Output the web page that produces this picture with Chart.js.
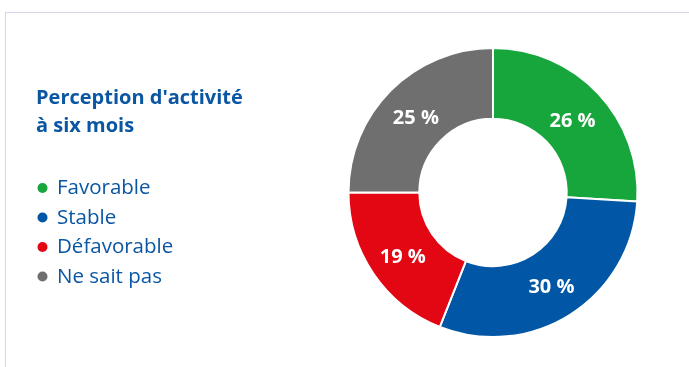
<!DOCTYPE html>
<html lang="fr">
<head>
<meta charset="utf-8">
<title>Perception d'activité à six mois</title>
<script src="https://cdn.jsdelivr.net/npm/chart.js@4.4.1/dist/chart.umd.min.js"></script>
<style>
  html, body { margin: 0; padding: 0; background: #fff; }
  body { width: 689px; height: 367px; position: relative; overflow: hidden; }
  .frame {
    position: absolute; left: 5px; top: 12px; right: 0; bottom: 0;
    border-top: 1px solid #d3d6ef; border-left: 1px solid #d3d6ef;
  }
  #perception { position: absolute; left: 0; top: 0; }
</style>
</head>
<body>
<div class="frame"></div>
<canvas id="perception" width="689" height="367"></canvas>
<script>
const titleLines = ["Perception d'activité", "à six mois"];
const categories = ['Favorable', 'Stable', 'Défavorable', 'Ne sait pas'];
const shares = [26, 30, 19, 25];
const sliceColors = ['#17a63b', '#0157a5', '#e30613', '#6f6f6f'];

const textBlue = '#0b56a2';
const fontFamily = "'Open Sans', 'Noto Sans', sans-serif";

// title + legend drawn on the left side of the canvas
const sideLegend = {
  id: 'sideLegend',
  afterDraw(chart) {
    const ctx = chart.ctx;
    const ds = chart.data.datasets[0];
    ctx.save();
    ctx.textBaseline = 'alphabetic';
    ctx.textAlign = 'left';
    ctx.fillStyle = textBlue;
    ctx.font = 'bold 20px ' + fontFamily;
    titleLines.forEach((line, i) => ctx.fillText(line, 36, 104 + i * 28));

    ctx.font = '20.5px ' + fontFamily;
    chart.data.labels.forEach((label, i) => {
      const base = 194 + i * 29.5;
      ctx.fillStyle = ds.backgroundColor[i];
      ctx.beginPath();
      ctx.arc(42.5, base - 6, 5, 0, Math.PI * 2);
      ctx.fill();
      ctx.fillStyle = textBlue;
      ctx.fillText(label, 57, base);
    });
    ctx.restore();
  }
};

// percentage written in the middle of each slice
const sliceLabels = {
  id: 'sliceLabels',
  afterDatasetsDraw(chart) {
    const ctx = chart.ctx;
    const meta = chart.getDatasetMeta(0);
    const values = chart.data.datasets[0].data;
    ctx.save();
    ctx.fillStyle = '#fff';
    ctx.font = 'bold 20px ' + fontFamily;
    ctx.textAlign = 'center';
    ctx.textBaseline = 'middle';
    meta.data.forEach((arc, i) => {
      const p = arc.tooltipPosition();
      ctx.fillText(values[i] + ' %', p.x, p.y + 3);
    });
    ctx.restore();
  }
};

new Chart(document.getElementById('perception'), {
  type: 'doughnut',
  data: {
    labels: categories,
    datasets: [{
      data: shares,
      backgroundColor: sliceColors,
      borderColor: '#fff',
      borderWidth: 2
    }]
  },
  options: {
    responsive: false,
    animation: false,
    cutout: '51%',
    layout: { padding: { left: 347, right: 50, top: 47, bottom: 29 } },
    plugins: {
      legend: { display: false },
      tooltip: { enabled: false }
    }
  },
  plugins: [sideLegend, sliceLabels]
});
</script>
</body>
</html>
